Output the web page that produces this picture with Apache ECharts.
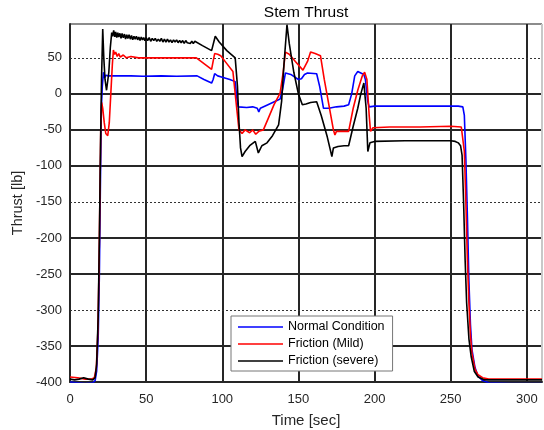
<!DOCTYPE html>
<html>
<head>
<meta charset="utf-8">
<script src="https://cdn.jsdelivr.net/npm/echarts@6/dist/echarts.min.js"></script>
<style>
  html, body { margin: 0; padding: 0; background: #fff; }
</style>
</head>
<body>
<div id="chart" style="width: 544px;height:430px;"></div>
<script>
// series names and colours
var names = ["Normal Condition", "Friction (Mild)", "Friction (severe)"];
var colors = ["#0000ff", "#ff0000", "#000000"];

// [time sec, thrust lb]
var normal = [
  [0, -400], [5, -401], [10, -402], [15, -401], [16.5, -398], [17.5, -385], [18.5, -340], [19.3, -250],
  [20, -120], [20.6, -20], [21.2, 10], [22, 30], [22.7, 22], [23.5, 26], [25, 25], [40, 25], [48, 24.5],
  [49, 25.5], [60, 25], [70, 24.5], [83.5, 25], [88, 20], [93, 15], [94, 20], [95, 28], [97, 25], [100, 23],
  [105, 20], [108.5, 17], [109.5, -5], [110.5, -18], [111.5, -20], [116, -19], [120, -18], [123, -20],
  [124, -25], [125, -20], [130, -15], [138, -7], [139.5, 5], [141.5, 29], [145, 27], [150, 20], [152, 21],
  [154, 27], [156, 29], [162, 28], [164, 10], [166.5, -20], [170, -20], [175, -18], [180, -17], [183, -15],
  [185, 0], [187, 25], [189, 31], [193, 27], [194, 20], [195.5, -10], [196.5, -18], [200, -17], [230, -17],
  [255, -17], [258, -18], [259, -30], [260, -90], [261, -170], [262, -260], [263, -320], [264, -355],
  [266, -380], [268, -392], [271, -398], [275, -401], [290, -402], [310, -402]
];

var mild = [
  [0, -393], [5, -394], [10, -396], [14, -396], [16, -394], [17.3, -380], [18.3, -330], [19, -250],
  [19.6, -150], [20.2, -50], [20.8, -12], [21.5, -20], [22.5, -40], [23.5, -55], [24.8, -58], [25.8, -40],
  [26.8, 0], [27.8, 40], [28.5, 61], [29.2, 55], [30, 58], [31, 52], [32, 56], [33, 51], [35, 54], [37, 50],
  [40, 52], [45, 50], [60, 50], [75, 50], [83, 50], [88, 42], [93, 34], [94, 45], [95, 56], [97, 55],
  [99, 53], [103, 42], [107, 31], [109, -10], [111, -50], [113, -55], [115, -50], [118, -54], [120, -50],
  [122, -56], [124, -52], [127, -50], [130, -35], [134, -15], [138, 1], [140, 30], [141.5, 58], [144, 55],
  [148, 45], [153, 33], [156, 45], [158, 58], [161, 56], [164.5, 53], [167, 20], [170, -15], [173, -50],
  [174, -57], [175, -52], [180, -52], [183, -52], [186, -20], [189, 5], [192, 25], [193.5, 30], [195, 20],
  [196.5, -30], [197.4, -52], [199, -47], [210, -46], [230, -46], [250, -45], [257, -46], [258, -46],
  [259, -80], [260, -150], [261, -230], [262, -290], [263, -335], [264, -360], [266, -382], [268, -390],
  [271, -394], [275, -396], [290, -396], [310, -396]
];

var severe = [
  [0, -396], [3, -397], [6, -396], [9, -394], [12, -396], [15, -397], [16.5, -394], [17.5, -375],
  [18.5, -310], [19.3, -200], [20, -80], [20.7, 20], [21.5, 90], [22.2, 50], [23, 20], [24, 5], [24.8, 3],
  [25.5, 30], [26.5, 65], [27.4, 85], [28, 80], [28.7, 88], [29.4, 79], [30, 86], [30.7, 78], [31.4, 85],
  [32, 79], [32.8, 84], [33.5, 77], [34.2, 84], [35, 78], [35.8, 83], [36.5, 76], [37.3, 82], [38, 77],
  [38.8, 82], [39.6, 76], [40.4, 81], [41.2, 75], [42, 80], [42.8, 76], [43.6, 80], [44.4, 75], [45.2, 79],
  [46, 74], [46.8, 79], [47.6, 75], [48.4, 78], [49.2, 74], [50, 78], [51, 74], [52, 78], [53, 73],
  [54, 77], [55, 74], [56, 77], [57, 73], [58, 76], [59, 73], [60, 77], [61, 72], [62, 76], [63, 72],
  [64, 76], [65, 72], [66, 75], [67, 71], [68, 75], [69, 72], [70, 75], [71, 71], [72, 74], [73, 71],
  [74, 74], [75, 70], [76, 74], [77, 71], [78, 73], [79, 70], [80, 73], [81, 70], [82, 73], [87, 67],
  [93, 60], [95.4, 80], [98, 72], [103, 60], [108.5, 50], [110, 10], [111, -40], [112, -75], [113, -87],
  [115, -80], [118, -72], [121.7, -66], [123.7, -82], [126, -72], [129.4, -68], [133, -58], [137, -43],
  [139, -10], [140.5, 40], [142.5, 96], [144, 70], [147, 30], [150, 0], [152.6, -15], [155, -14],
  [158, -12], [162, -11], [165, -30], [169, -60], [172, -87], [173, -75], [176, -73], [180, -72],
  [183, -72], [186, -45], [189, -20], [191, 0], [193, 15], [194.5, -20], [195.6, -80], [197, -68],
  [200, -66], [220, -65], [240, -65], [250, -65], [253, -66], [255, -68], [256.5, -72], [257.5, -85],
  [258.5, -150], [259.5, -230], [260.5, -290], [262, -340], [263.5, -365], [265.5, -385], [268, -393],
  [272, -397], [290, -397], [310, -397]
];

// axis settings
var xTicks = [0, 50, 100, 150, 200, 250, 300];
var yTicks = [-400, -350, -300, -250, -200, -150, -100, -50, 0, 50];
var dottedY = [50, -150, -300];

var myChart = echarts.init(document.getElementById("chart"));
var font = "Liberation Sans, Arial, sans-serif";

var series = [normal, mild, severe].map(function (d, i) {
  return {
    name: names[i],
    type: "line",
    symbol: "none",
    z: 5 + i,
    lineStyle: { color: colors[i], width: 1.6 },
    itemStyle: { color: colors[i] },
    data: d
  };
});
// dotted grid lines
series[0].markLine = {
  silent: true,
  symbol: "none",
  label: { show: false },
  lineStyle: { color: "#333", type: [2, 2], width: 1 },
  data: dottedY.map(function (y) { return { yAxis: y }; })
};

// colours of the solid grid lines by tick index (min..max)
var ySplitColors = yTicks.map(function (y) {
  return dottedY.indexOf(y) >= 0 ? "rgba(0,0,0,0)" : "#262626";
});
ySplitColors.push("#8c8c8c");
var xSplitColors = xTicks.map(function (x) {
  return x === 0 ? "rgba(0,0,0,0)" : "#262626";
});
xSplitColors.push("#c8c8c8");

var option = {
  animation: false,
  backgroundColor: "#fff",
  title: {
    text: "Stem Thrust",
    left: 301,
    textAlign: "center",
    top: 0,
    textStyle: { fontFamily: font, fontSize: 15.5, fontWeight: "normal", color: "#000" }
  },
  grid: { left: 70, right: 2, top: 24, bottom: 48, outerBoundsMode: "none" },
  legend: {
    orient: "vertical",
    left: 231,
    top: 316,
    padding: [4, 8, 3, 7],
    icon: "rect",
    itemWidth: 45,
    itemHeight: 1.6,
    itemGap: 3,
    backgroundColor: "#fff",
    borderColor: "#777",
    borderWidth: 1,
    data: names,
    textStyle: { fontFamily: font, fontSize: 12.5, color: "#000", lineHeight: 14 }
  },
  xAxis: {
    type: "value",
    min: 0,
    max: 310,
    interval: 50,
    name: "Time [sec]",
    nameLocation: "middle",
    nameGap: 31,
    nameTextStyle: { fontFamily: font, fontSize: 15, color: "#262626" },
    axisLine: { onZero: false, lineStyle: { color: "#262626", width: 2 } },
    axisTick: { show: false },
    axisLabel: { fontFamily: font, fontSize: 13, color: "#262626", margin: 11, showMaxLabel: false },
    splitLine: { show: true, lineStyle: { color: xSplitColors, width: 2 } }
  },
  yAxis: {
    type: "value",
    min: -400,
    max: 97,
    interval: 50,
    name: "Thrust [lb]",
    nameLocation: "middle",
    nameGap: 38,
    nameTextStyle: { fontFamily: font, fontSize: 14.5, color: "#262626" },
    axisLine: { show: true, lineStyle: { color: "#262626", width: 2 } },
    axisTick: { show: false },
    axisLabel: {
      fontFamily: font, fontSize: 13, color: "#262626", margin: 8, showMaxLabel: false,
      formatter: function (v) { return v % 50 === 0 ? String(v) : ""; }
    },
    splitLine: { show: true, lineStyle: { color: ySplitColors, width: 2 } }
  },
  series: series
};
myChart.setOption(option);
</script>
</body>
</html>
